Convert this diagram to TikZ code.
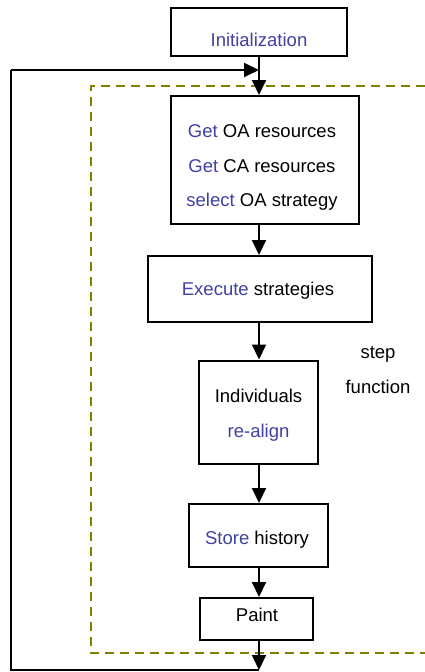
\documentclass[tikz,border=0pt]{standalone}
\usepackage{fontspec}
\setmainfont{Liberation Sans}
\usetikzlibrary{arrows.meta}
\definecolor{kw}{RGB}{64,64,165}
\definecolor{olivedash}{RGB}{128,128,0}
\begin{document}
\begin{tikzpicture}[x=1pt,y=-1pt,
  box/.style={draw=black,line width=2pt,fill=white,inner sep=0pt},
  txt/.style={inner sep=0pt,align=center,font=\fontsize{18.5}{34.5}\selectfont},
  flow/.style={line width=2pt,-{Triangle[length=15pt,width=14pt]}},
  plain/.style={line width=2pt}]
\useasboundingbox (0,0) rectangle (425,672);

% step function region
\draw[olivedash,line width=2pt,dash pattern=on 9pt off 6pt]
  (440,86) -- (91,86) -- (91,653) -- (440,653);

% boxes
\node[box,minimum width=176pt,minimum height=48pt] (init) at (259,32) {};
\node[box,minimum width=188pt,minimum height=128pt] (res) at (265,160) {};
\node[box,minimum width=224pt,minimum height=66pt] (exec) at (260,289) {};
\node[box,minimum width=119pt,minimum height=103pt] (ind) at (258.5,412) {};
\node[box,minimum width=139pt,minimum height=63pt] (store) at (258.5,535.5) {};
\node[box,minimum width=113pt,minimum height=42pt] (paint) at (256.5,619) {};

% box texts
\node[txt] (initT) at (259,40) {\textcolor{kw}{Initialization}};
\node[txt] (resT) at (262,167.5)
  {\textcolor{kw}{Get} OA resources\\\textcolor{kw}{Get} CA resources\\\textcolor{kw}{select} OA strategy};
\node[txt] (execT) at (258,291) {\textcolor{kw}{Execute} strategies};
\node[txt] (indT) at (258.5,415) {Individuals\\\textcolor{kw}{re-align}};
\node[txt] (storeT) at (257,540) {\textcolor{kw}{Store} history};
\node[txt] (paintT) at (257,615) {Paint};

\node[txt] (steplbl) at (378,370) {step\\function};

\coordinate (bot) at (259,670);
\coordinate (botleft) at (11,670);
\coordinate (topleft) at (11,70);
\coordinate (join) at (259,70);

\draw[flow] (init.south) -- (init.south |- res.north);
\draw[flow] (init.south |- res.south) -- (init.south |- exec.north);
\draw[flow] (init.south |- exec.south) -- (init.south |- ind.north);
\draw[flow] (init.south |- ind.south) -- (init.south |- store.north);
\draw[flow] (init.south |- store.south) -- (init.south |- paint.north);
\draw[flow] (init.south |- paint.south) -- (bot);

% feedback loop back to the top
\draw[plain] (bot) -- (botleft) -- (topleft);
\draw[flow] (topleft) -- (join);
\end{tikzpicture}
\end{document}
